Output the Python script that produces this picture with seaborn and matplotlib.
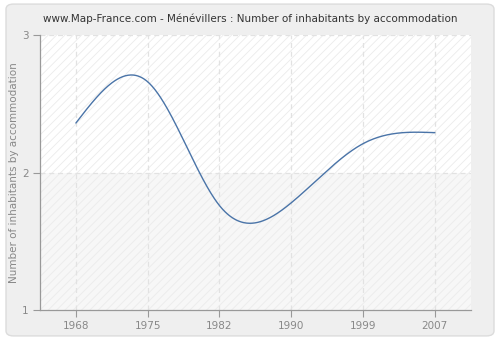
import numpy as np
import pandas as pd
import matplotlib
matplotlib.use("Agg")
import matplotlib.pyplot as plt
import seaborn as sns
from matplotlib.patches import FancyBboxPatch, Rectangle

years = ["1968", "1975", "1982", "1990", "1999", "2007"]
values = [2.36, 2.66, 1.76, 1.78, 2.21, 2.29]
y_ticks = [1, 2, 3]
title = "www.Map-France.com - Ménévillers : Number of inhabitants by accommodation"
ylabel = "Number of inhabitants by accommodation"


def natural_spline(x, y, n=400):
    x = np.asarray(x, float)
    y = np.asarray(y, float)
    k = len(x)
    h = np.diff(x)
    A = np.zeros((k, k))
    b = np.zeros(k)
    A[0, 0] = 1
    A[-1, -1] = 1
    for i in range(1, k - 1):
        A[i, i - 1] = h[i - 1]
        A[i, i] = 2 * (h[i - 1] + h[i])
        A[i, i + 1] = h[i]
        b[i] = 3 * ((y[i + 1] - y[i]) / h[i] - (y[i] - y[i - 1]) / h[i - 1])
    c = np.linalg.solve(A, b)
    xs = np.linspace(x[0], x[-1], n)
    ys = np.empty_like(xs)
    for j, xv in enumerate(xs):
        i = min(np.searchsorted(x, xv, side="right") - 1, k - 2)
        dx = xv - x[i]
        bi = (y[i + 1] - y[i]) / h[i] - h[i] * (2 * c[i] + c[i + 1]) / 3
        di = (c[i + 1] - c[i]) / (3 * h[i])
        ys[j] = y[i] + bi * dx + c[i] * dx ** 2 + di * dx ** 3
    return xs, ys


idx = np.arange(len(years))
xs, ys = natural_spline(idx, values)
df = pd.DataFrame({"x": xs, "y": ys})

sns.set_theme(style="white")
plt.rcParams["font.family"] = ["DejaVu Sans"]
plt.rcParams["hatch.linewidth"] = 0.6

fig = plt.figure(figsize=(5, 3.4), dpi=100)
fig.patch.set_facecolor("white")
bg = fig.add_axes([0, 0, 1, 1], zorder=-10)
bg.set_xlim(0, 1)
bg.set_ylim(0, 1)
bg.axis("off")
bg.add_patch(FancyBboxPatch((0.012, 0.012), 0.976, 0.976, boxstyle="round,pad=0,rounding_size=0.015",
                            facecolor="#efefef", edgecolor="#dcdcdc", linewidth=1))

ax = fig.add_axes([0.08, 0.088, 0.8614, 0.809], zorder=1)
ax.set_facecolor("white")
ax.set_xlim(-0.5, 5.5)
ax.set_ylim(1, 3)

ax.add_patch(Rectangle((-0.5, 1), 6, 1, facecolor="#f7f7f7", edgecolor="none", zorder=0))
ax.add_patch(Rectangle((-0.5, 1), 6, 2, facecolor="none", edgecolor="#ebebeb", hatch="////",
                       linewidth=0, zorder=0.5))

for i in idx:
    ax.axvline(i, color="#e2e2e2", linestyle=(0, (4, 3)), linewidth=0.9, zorder=1)
for yv in y_ticks[1:]:
    ax.axhline(yv, color="#e2e2e2", linestyle=(0, (4, 3)), linewidth=0.9, zorder=1)

sns.lineplot(data=df, x="x", y="y", ax=ax, color="#4a74a8", linewidth=1.0, zorder=3)

ax.set_xticks(idx)
ax.set_xticklabels(years)
ax.set_yticks(y_ticks)
ax.set_yticklabels([str(t) for t in y_ticks])
ax.tick_params(axis="both", colors="#999999", labelcolor="#888888", labelsize=7.5, length=5, width=0.8,
               direction="out", bottom=True, left=True, pad=3)
for side in ["top", "right"]:
    ax.spines[side].set_visible(False)
for side in ["left", "bottom"]:
    ax.spines[side].set_color("#999999")
    ax.spines[side].set_linewidth(0.9)
ax.set_xlabel("")
ax.set_ylabel(ylabel, color="#888888", fontsize=7.5, labelpad=2)
fig.text(0.5, 0.945, title, ha="center", va="center", fontsize=7.5, color="#333333")

fig.savefig("out.png", dpi=100, facecolor=fig.get_facecolor())
